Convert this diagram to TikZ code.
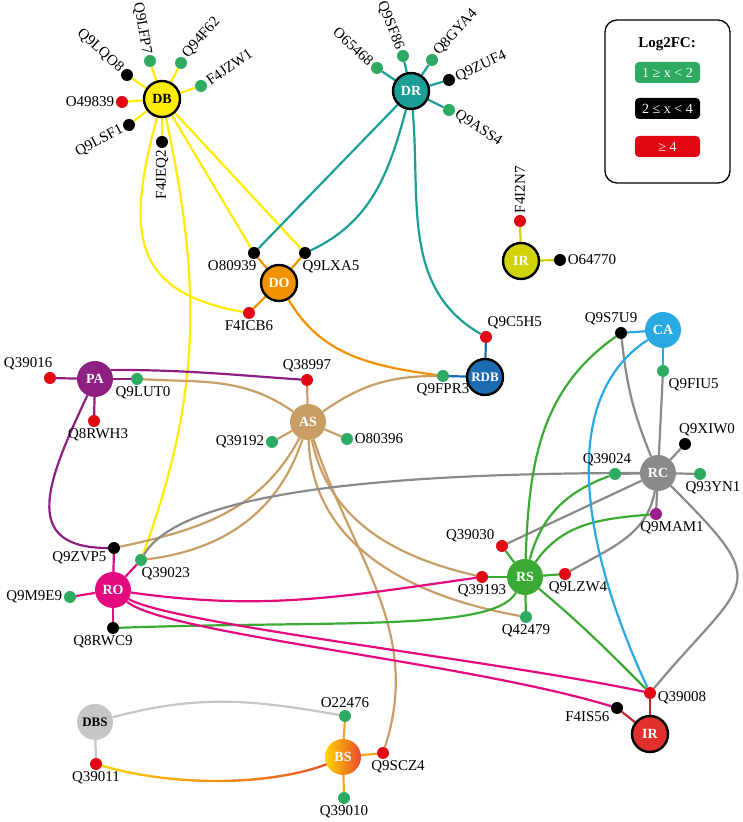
\documentclass[tikz,border=0pt]{standalone}
\usepackage{fontspec}
\setmainfont{Liberation Serif}
\usetikzlibrary{calc,backgrounds}
\definecolor{cDB}{HTML}{FFEC00}
\definecolor{cDR}{HTML}{1A9E96}
\definecolor{cDO}{HTML}{F39200}
\definecolor{cIRy}{HTML}{D2D20A}
\definecolor{cRDB}{HTML}{1D6BB3}
\definecolor{cCA}{HTML}{29A9E1}
\definecolor{cRC}{HTML}{8A8A8A}
\definecolor{cPA}{HTML}{8E1F83}
\definecolor{cAS}{HTML}{C99D66}
\definecolor{cRO}{HTML}{E4097F}
\definecolor{cRS}{HTML}{3AAA35}
\definecolor{cIRr}{HTML}{E2312D}
\definecolor{cIRl}{HTML}{C4262E}
\definecolor{cDBS}{HTML}{C6C6C6}
\definecolor{cBsA}{HTML}{FFD500}
\definecolor{cBsM}{HTML}{FBC012}
\definecolor{cBsB}{HTML}{E84A2B}
\definecolor{cBsL}{HTML}{F5A623}
\definecolor{cGrn}{HTML}{2EAA63}
\definecolor{cRed}{HTML}{E30613}
\definecolor{cPur}{HTML}{9A1D8C}

\begin{document}
\begin{tikzpicture}[x=1pt,y=1pt,font=\fontsize{15}{17}\selectfont,
  hub/.style={circle,minimum size=36pt,inner sep=0pt,text=white,font=\fontsize{14}{14}\selectfont\bfseries},
  ring/.style={hub,draw=black,line width=2.4pt},
  gdot/.style={circle,fill=cGrn,minimum size=12pt,inner sep=0pt},
  kdot/.style={gdot,fill=black},
  rdot/.style={gdot,fill=cRed},
  pdot/.style={gdot,fill=cPur},
  every label/.style={inner sep=1.5pt,font=\fontsize{15}{17}\selectfont},
  lnk/.style={line width=2.2pt},
  pill/.style={rounded corners=4pt,minimum width=65pt,minimum height=21pt,inner sep=0pt,text=white,font=\fontsize{14}{14}\selectfont}]
  \useasboundingbox (0,0) rectangle (742,822);
  \node[ring,fill=cDB,text=black] (db) at (162,723) {DB};
  \node[ring,fill=cDR] (dr) at (411,731) {DR};
  \node[ring,fill=cDO] (do) at (279,539) {DO};
  \node[ring,fill=cIRy] (iry) at (521,561) {IR};
  \node[ring,fill=cRDB,font=\fontsize{13}{13}\selectfont\bfseries] (rdb) at (485,445) {RDB};
  \node[hub,fill=cCA] (ca) at (663,492) {CA};
  \node[hub,fill=cRC] (rc) at (658,349) {RC};
  \node[hub,fill=cPA] (pa) at (95,443) {PA};
  \node[hub,fill=cAS] (as) at (308,400) {AS};
  \node[hub,fill=cRO] (ro) at (113,232) {RO};
  \node[hub,fill=cRS] (rs) at (525,245) {RS};
  \node[ring,fill=cIRr] (irr) at (650,88) {IR};
  \node[hub,fill=cDBS,text=black,font=\fontsize{13}{13}\selectfont\bfseries] (dbs) at (95,100) {DBS};
  \node[hub,left color=cBsA,right color=cBsB] (bs) at (343,65) {BS};

  \node[kdot,label={[rotate=-42,anchor=east]135:Q9LQO8}] (q9lqo8) at (127,747) {};
  \node[gdot,label={[rotate=-80,anchor=east]120:Q9LFP7}] (q9lfp7) at (150,761) {};
  \node[gdot,label={[rotate=49,anchor=west]60:Q94F62}] (q94f62) at (181,759) {};
  \node[gdot,label={[rotate=35,anchor=west]30:F4JZW1}] (f4jzw1) at (201,736) {};
  \node[rdot,label={left:O49839}] (o49839) at (122,720) {};
  \node[kdot,label={[rotate=28,anchor=east]210:Q9LSF1}] (q9lsf1) at (129,697) {};
  \node[kdot,label={[rotate=90,anchor=east]270:F4JEQ2}] (f4jeq2) at (162,680) {};

  \node[gdot,label={[rotate=-42,anchor=east]135:O65468}] (o65468) at (377,754) {};
  \node[gdot,label={[rotate=-68,anchor=east]115:Q9SF86}] (q9sf86) at (403,766) {};
  \node[gdot,label={[rotate=47,anchor=west]60:Q8GYA4}] (q8gya4) at (432,762) {};
  \node[kdot,label={[rotate=25,anchor=west]15:Q9ZUF4}] (q9zuf4) at (449,742) {};
  \node[gdot,label={[rotate=-34,anchor=west]-20:Q9ASS4}] (q9ass4) at (449,712) {};

  \node[kdot,label={[anchor=north east,xshift=4pt]below:O80939}] (o80939) at (254,569) {};
  \node[kdot,label={[anchor=north west,xshift=-4pt]below:Q9LXA5}] (q9lxa5) at (305,569) {};
  \node[rdot,label={below:F4ICB6}] (f4icb6) at (249,509) {};
  \node[rdot,label={[rotate=90,anchor=west]above:F4I2N7}] (f4i2n7) at (520,601) {};
  \node[kdot,label={right:O64770}] (o64770) at (560,562) {};
  \node[rdot,label={[anchor=south west]above:Q9C5H5}] (q9c5h5) at (486,485) {};
  \node[gdot,label={below:Q9FPR3}] (q9fpr3) at (443,446) {};

  \node[kdot,label={[xshift=-10pt]above:Q9S7U9}] (q9s7u9) at (621,489) {};
  \node[gdot,label={[anchor=north west,xshift=4pt]below:Q9FIU5}] (q9fiu5) at (663,451) {};
  \node[kdot,label={[xshift=22pt]above:Q9XIW0}] (q9xiw0) at (685,378) {};
  \node[gdot,label={[xshift=13pt]below:Q93YN1}] (q93yn1) at (700,348) {};
  \node[gdot,label={[xshift=-8pt]above:Q39024}] (q39024) at (615,348) {};
  \node[pdot,label={[xshift=16pt]below:Q9MAM1}] (q9mam1) at (656,308) {};

  \node[rdot,label={[anchor=south east,xshift=4pt]above:Q39016}] (q39016) at (50,444) {};
  \node[gdot,label={[xshift=6pt]below:Q9LUT0}] (q9lut0) at (137,443) {};
  \node[rdot,label={[xshift=4pt]below:Q8RWH3}] (q8rwh3) at (94,401) {};
  \node[rdot,label={above:Q38997}] (q38997) at (307,442) {};
  \node[gdot,label={left:Q39192}] (q39192) at (272,380) {};
  \node[gdot,label={right:O80396}] (o80396) at (347,383) {};

  \node[kdot,label={[anchor=north east]200:Q9ZVP5}] (q9zvp5) at (114,274) {};
  \node[gdot,label={[anchor=north west]-100:Q39023}] (q39023) at (141,262) {};
  \node[gdot,label={left:Q9M9E9}] (q9m9e9) at (70,225) {};
  \node[kdot,label={[xshift=-10pt]below:Q8RWC9}] (q8rwc9) at (113,194) {};

  \node[rdot,label={[anchor=south east]160:Q39030}] (q39030) at (502,276) {};
  \node[rdot,label={below:Q39193}] (q39193) at (482,245) {};
  \node[rdot,label={[xshift=13pt]below:Q9LZW4}] (q9lzw4) at (565,248) {};
  \node[gdot,label={below:Q42479}] (q42479) at (526,205) {};
  \node[rdot,label={[anchor=west,yshift=-5pt]right:Q39008}] (q39008) at (650,129) {};
  \node[kdot,label={[anchor=north east]200:F4IS56}] (f4is56) at (617,114) {};

  \node[rdot,label={below:Q39011}] (q39011) at (96,58) {};
  \node[gdot,label={above:O22476}] (o22476) at (345,106) {};
  \node[rdot,label={[xshift=15pt]below:Q9SCZ4}] (q9scz4) at (383,69) {};
  \node[gdot,label={below:Q39010}] (q39010) at (344,24) {};

  \node[draw=black,line width=1.3pt,rounded corners=12pt,minimum width=125pt,minimum height=163pt] (legend) at (667.5,720.5) {};
  \node[font=\fontsize{15}{15}\selectfont\bfseries] (ltitle) at (667,778) {Log2FC:};
  \node[pill,fill=cGrn] (lgrn) at (667.5,749.5) {1 ≥ x < 2};
  \node[pill,fill=black] (lblk) at (667.5,713.5) {2 ≤ x < 4};
  \node[pill,fill=cRed] (lred) at (667.5,675.5) {≥ 4};

  \begin{pgfonlayer}{background}
  \draw[lnk,cDB] (db) -- (o80939); \draw[lnk,cDB] (db) -- (q9lxa5); \draw[lnk,cDB] (db) to[out=-105,in=170,looseness=1.4] (f4icb6); \draw[lnk,cDB] (db) to[out=-78,in=70] (q39023);
  \draw[lnk,cDR] (dr) -- (o80939); \draw[lnk,cDR] (dr) to[out=-105,in=25] (q9lxa5); \draw[lnk,cDR] (dr) to[out=-85,in=150] (q9c5h5);
  \draw[lnk,cDO] (do) to[out=-60,in=172] (q9fpr3);
  \draw[lnk,cPA] (pa.30) to[out=0,in=176] (q38997); \draw[lnk,cPA] (pa) to[out=-115,in=180,looseness=1.5] (q9zvp5);
  \draw[lnk,cAS] (as) to[out=145,in=-3] (q9lut0); \draw[lnk,cAS] (as) to[out=35,in=180] (q9fpr3); \draw[lnk,cAS] (as) to[out=-118,in=12] (q9zvp5); \draw[lnk,cAS] (as) to[out=-108,in=7] (q39023);
  \draw[lnk,cAS] (as) to[out=-78,in=167] (q39193); \draw[lnk,cAS] (as) to[out=-88,in=170] (q42479); \draw[lnk,cAS] (as) to[out=-72,in=72] (q9scz4);
  \draw[lnk,cRC] (rc) to[out=180,in=60,out distance=240,in distance=75] (q39023); \draw[lnk,cRC] (rc) -- (q39030); \draw[lnk,cRC] (rc) to[out=-100,in=30] (q9lzw4);
  \draw[lnk,cRC] (rc) to[out=-45,in=50,looseness=1.85] (q39008); \draw[lnk,cRC] (rc) to[bend left=8] (q9s7u9);
  \draw[lnk,cRS] (rs) to[out=88,in=215] (q9s7u9); \draw[lnk,cRS] (rs) to[out=75,in=200] (q39024); \draw[lnk,cRS] (rs) to[out=55,in=185] (q9mam1);
  \draw[lnk,cRS] (rs) to[out=-120,in=2,out distance=45,in distance=220] (q8rwc9); \draw[lnk,cRS] (rs) to[out=-40,in=135] (q39008);
  \draw[lnk,cCA] (ca) to[out=213,in=115,out distance=110,in distance=150] (q39008);
  \draw[lnk,cRO] (ro) to[out=-8,in=188] (q39193); \draw[lnk,cRO] (ro) to[out=-30,in=168,out distance=50,in distance=150] (q39008); \draw[lnk,cRO] (ro) to[out=-40,in=163,out distance=50,in distance=150] (f4is56);
  \draw[lnk,cDBS] (dbs) to[out=15,in=170] (o22476);
  \shade[left color=cBsA,middle color=cBsM,right color=cBsB] ($(q39011)+(0,1.2)$) .. controls ($(q39011)+(84,-24.8)$) and ($(bs)+(-53,-26.8)$) .. ($(bs)+(0,1.2)$) -- ($(bs)+(0,-1.2)$) .. controls ($(bs)+(-53,-29.2)$) and ($(q39011)+(84,-27.2)$) .. ($(q39011)+(0,-1.2)$) -- cycle;

  \draw[lnk,cDB] (db) -- (q9lqo8); \draw[lnk,cDB] (db) -- (q9lfp7); \draw[lnk,cDB] (db) -- (q94f62); \draw[lnk,cDB] (db) -- (f4jzw1); \draw[lnk,cDB] (db) -- (o49839); \draw[lnk,cDB] (db) -- (q9lsf1); \draw[lnk,cDB] (db) -- (f4jeq2);
  \draw[lnk,cDR] (dr) -- (o65468); \draw[lnk,cDR] (dr) -- (q9sf86); \draw[lnk,cDR] (dr) -- (q8gya4); \draw[lnk,cDR] (dr) -- (q9zuf4); \draw[lnk,cDR] (dr) -- (q9ass4);
  \draw[lnk,cDO] (do) -- (o80939); \draw[lnk,cDO] (do) -- (q9lxa5); \draw[lnk,cDO] (do) -- (f4icb6);
  \draw[lnk,cIRy] (iry) -- (f4i2n7); \draw[lnk,cIRy] (iry) -- (o64770);
  \draw[lnk,cRDB] (rdb) -- (q9c5h5); \draw[lnk,cRDB] (rdb) -- (q9fpr3);
  \draw[lnk,cCA] (ca) -- (q9s7u9); \draw[lnk,cCA] (ca) -- (q9fiu5);
  \draw[lnk,cRC] (rc) -- (q9fiu5); \draw[lnk,cRC] (rc) -- (q9xiw0); \draw[lnk,cRC] (rc) -- (q93yn1); \draw[lnk,cRC] (rc) -- (q39024); \draw[lnk,cRC] (rc) -- (q9mam1);
  \draw[lnk,cPA] (pa) -- (q39016); \draw[lnk,cPA] (pa) -- (q9lut0); \draw[lnk,cPA] (pa) -- (q8rwh3);
  \draw[lnk,cAS] (as) -- (q38997); \draw[lnk,cAS] (as) -- (q39192); \draw[lnk,cAS] (as) -- (o80396);
  \draw[lnk,cRO] (ro) -- (q9zvp5); \draw[lnk,cRO] (ro) -- (q39023); \draw[lnk,cRO] (ro) -- (q9m9e9); \draw[lnk,cRO] (ro) -- (q8rwc9);
  \draw[lnk,cRS] (rs) -- (q39030); \draw[lnk,cRS] (rs) -- (q39193); \draw[lnk,cRS] (rs) -- (q9lzw4); \draw[lnk,cRS] (rs) -- (q42479);
  \draw[lnk,cIRl] (irr) -- (q39008); \draw[lnk,cIRl] (irr) -- (f4is56);
  \draw[lnk,cDBS] (dbs) -- (q39011);
  \draw[lnk,cBsL] (bs) -- (o22476); \draw[lnk,cBsL] (bs) -- (q9scz4); \draw[lnk,cBsL] (bs) -- (q39010);
  \end{pgfonlayer}
\end{tikzpicture}
\end{document}
